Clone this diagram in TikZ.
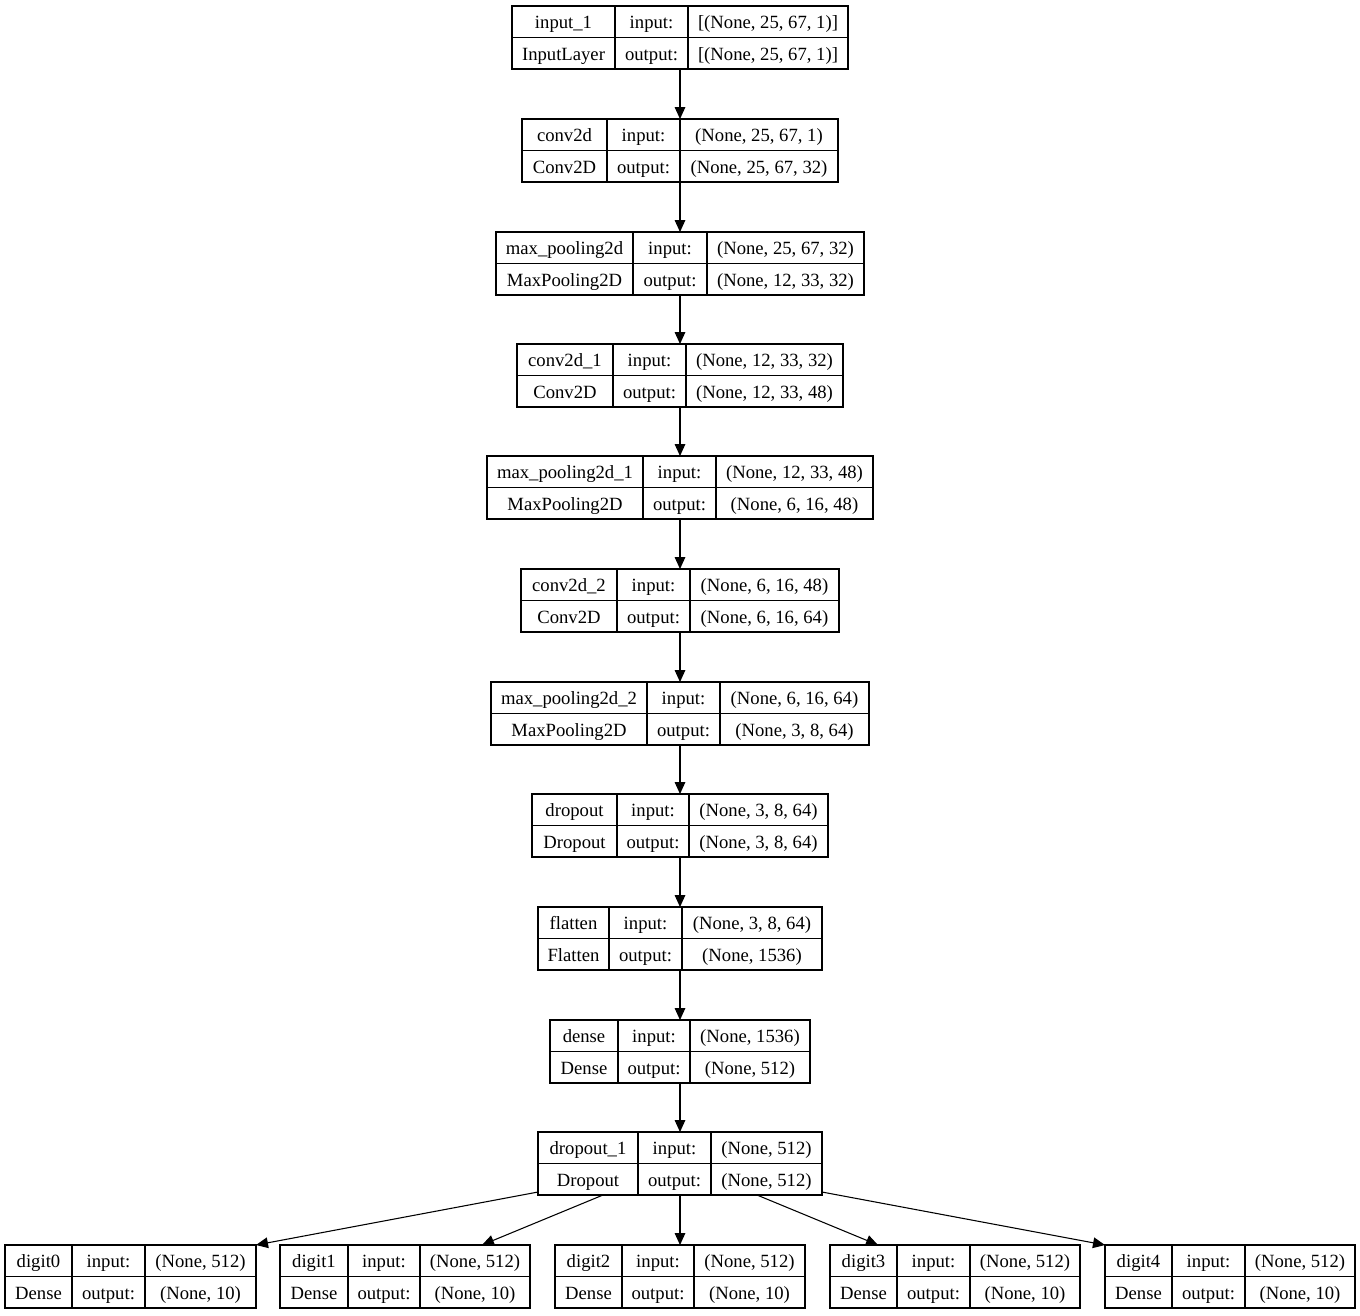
\documentclass[tikz,border=0pt]{standalone}
\usepackage{fontspec}
\setmainfont{Liberation Serif}
\usetikzlibrary{arrows.meta,calc}
\begin{document}
\begin{tikzpicture}[x=0.75pt,y=-0.75pt,
  rec/.style={draw, line width=0.8pt, inner sep=0pt, outer sep=0pt, anchor=north west},
  sep/.style={line width=0.8pt},
  lbl/.style={inner sep=0pt, anchor=base, font=\fontsize{14pt}{16pt}\selectfont},
  edge/.style={line width=0.8pt, -{Triangle[length=9pt,width=8pt]}}]
\useasboundingbox (0,0) rectangle (1360,1315);
% layer records: name / left / divider 1 / divider 2 / right / top / layer / class / input / output
\foreach \n/\xa/\da/\db/\xb/\yt/\ta/\tb/\ia/\ib in {
 in1/512/615/688/848/6/{input\_1}/{InputLayer}/{[(None, 25, 67, 1)]}/{[(None, 25, 67, 1)]},
 cv0/522/607/680/838/119/{conv2d}/{Conv2D}/{(None, 25, 67, 1)}/{(None, 25, 67, 32)},
 mp0/496/633/707/864/232/{max\_pooling2d}/{MaxPooling2D}/{(None, 25, 67, 32)}/{(None, 12, 33, 32)},
 cv1/517/613/686/843/344/{conv2d\_1}/{Conv2D}/{(None, 12, 33, 32)}/{(None, 12, 33, 48)},
 mp1/487/643/716/873/456/{max\_pooling2d\_1}/{MaxPooling2D}/{(None, 12, 33, 48)}/{(None, 6, 16, 48)},
 cv2/521/617/690/839/569/{conv2d\_2}/{Conv2D}/{(None, 6, 16, 48)}/{(None, 6, 16, 64)},
 mp2/491/647/720/869/682/{max\_pooling2d\_2}/{MaxPooling2D}/{(None, 6, 16, 64)}/{(None, 3, 8, 64)},
 do0/532/617/689/828/794/{dropout}/{Dropout}/{(None, 3, 8, 64)}/{(None, 3, 8, 64)},
 fl/538/609/682/822/907/{flatten}/{Flatten}/{(None, 3, 8, 64)}/{(None, 1536)},
 de/550/618/690/810/1020/{dense}/{Dense}/{(None, 1536)}/{(None, 512)},
 do1/538/638/711/822/1132/{dropout\_1}/{Dropout}/{(None, 512)}/{(None, 512)},
 g0/5/72/145/256/1245/{digit0}/{Dense}/{(None, 512)}/{(None, 10)},
 g1/280/348/420/530/1245/{digit1}/{Dense}/{(None, 512)}/{(None, 10)},
 g2/555/622/694/805/1245/{digit2}/{Dense}/{(None, 512)}/{(None, 10)},
 g3/830/897/970/1080/1245/{digit3}/{Dense}/{(None, 512)}/{(None, 10)},
 g4/1105/1172/1245/1355/1245/{digit4}/{Dense}/{(None, 512)}/{(None, 10)}%
}{
  \node[rec, minimum width={(\xb-\xa)*0.75pt}, minimum height={63*0.75pt}] (\n) at (\xa,\yt) {};
  \draw[sep] (\xa,\yt+31.5) -- (\xb,\yt+31.5);
  \draw[sep] (\da,\yt) -- (\da,\yt+63);
  \draw[sep] (\db,\yt) -- (\db,\yt+63);
  \node[lbl] (\n-a) at ({(\xa+\da)/2},\yt+22) {\ta};
  \node[lbl] (\n-b) at ({(\xa+\da)/2},\yt+54) {\tb};
  \node[lbl] (\n-c) at ({(\da+\db)/2},\yt+22) {input:};
  \node[lbl] (\n-d) at ({(\da+\db)/2},\yt+54) {output:};
  \node[lbl] (\n-e) at ({(\db+\xb)/2},\yt+22) {\ia};
  \node[lbl] (\n-f) at ({(\db+\xb)/2},\yt+54) {\ib};
}
% main chain
\foreach \a/\b in {in1/cv0, cv0/mp0, mp0/cv1, cv1/mp1, mp1/cv2, cv2/mp2, mp2/do0, do0/fl, fl/de, de/do1}
  \draw[edge] (\a.south) -- (\b.north);
% output heads
\draw[edge] ($(do1.south west)+(0,-3)$) -- (g0.north east);
\draw[edge] ($(do1.south west)+(65,0)$) -- ($(g1.north west)+(202,0)$);
\draw[edge] (do1.south) -- (g2.north);
\draw[edge] ($(do1.south west)+(219,0)$) -- ($(g3.north west)+(48,0)$);
\draw[edge] ($(do1.south east)+(0,-3)$) -- (g4.north west);
\end{tikzpicture}
\end{document}
